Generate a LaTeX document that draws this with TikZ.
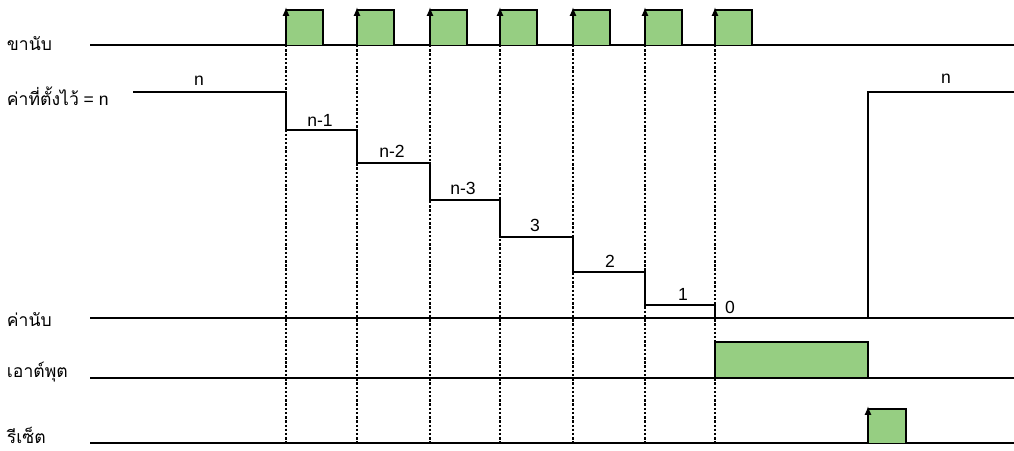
\documentclass[tikz,border=0pt]{standalone}
\usepackage{fontspec}
\usetikzlibrary{arrows.meta}
\setmainfont{Liberation Sans}
\newfontfamily\thaifont[Script=Thai]{Loma}
\definecolor{pulsegreen}{RGB}{150,206,130}

\begin{document}
\begin{tikzpicture}[x=0.02cm,y=-0.02cm,>=latex,line width=1.1pt]
    \tikzstyle{every node}=[font=\fontsize{10}{12}\selectfont]
    \tikzstyle{tick}=[dash pattern=on 1.4pt off 1pt,line width=1.2pt]
    \tikzstyle{pulse}=[fill=pulsegreen,draw=black,line width=0.9pt]
    \tikzstyle{signame}=[anchor=west,inner sep=0pt]
    \useasboundingbox (0,0) rectangle (1014,450);

    % signal names
    \node[signame] (clk) at (6,44) {\thaifont ขานับ};
    \node[signame] (preset) at (6,96) {{\thaifont ค่าที่ตั้งไว้} = n};
    \node[signame] (count) at (6,320) {\thaifont ค่านับ};
    \node[signame] (out) at (6,372) {\thaifont เอาต์พุต};
    \node[signame] (rst) at (6,435) {\thaifont รีเซ็ต};

    % base lines
    \draw (90,45) -- (1014,45);
    \draw (90,318) -- (1014,318);
    \draw (90,378) -- (1014,378);
    \draw (90,443) -- (1014,443);

    % clock pulses
    \foreach \x in {286,357,430,500,573,645,715} {
        \fill[pulsegreen] (\x,10) rectangle (\x+37,45);
        \draw[-{Latex[length=5pt,width=4pt]},line width=0.9pt] (\x,45) -- (\x,7);
        \draw[line width=0.9pt] (\x,10) -- (\x+37,10) -- (\x+37,45);
        \draw[tick] (\x,45) -- (\x,445);
    }

    % count down
    \draw (133,92) -- (286,92) -- (286,130) -- (357,130) -- (357,163)
    -- (430,163) -- (430,200) -- (500,200) -- (500,237) -- (573,237)
    -- (573,272) -- (645,272) -- (645,305) -- (715,305) -- (715,318);
    \node (vn) at (199,81) {n};
    \node (vn1) at (320,120) {n-1};
    \node (vn2) at (392,151) {n-2};
    \node (vn3) at (463,188) {n-3};
    \node (v3) at (535,225) {3};
    \node (v2) at (610,261) {2};
    \node (v1) at (683,294) {1};
    \node (v0) at (730,307) {0};

    % reload after reset
    \draw (868,318) -- (868,92) -- (1014,92);
    \node (vnr) at (946,79) {n};

    % output
    \draw[pulse] (715,342) rectangle (868,378);

    % reset pulse
    \fill[pulsegreen] (868,409) rectangle (906,443);
    \draw[-{Latex[length=5pt,width=4pt]},line width=0.9pt] (868,443) -- (868,406);
    \draw[line width=0.9pt] (868,409) -- (906,409) -- (906,443);
\end{tikzpicture}
\end{document}
